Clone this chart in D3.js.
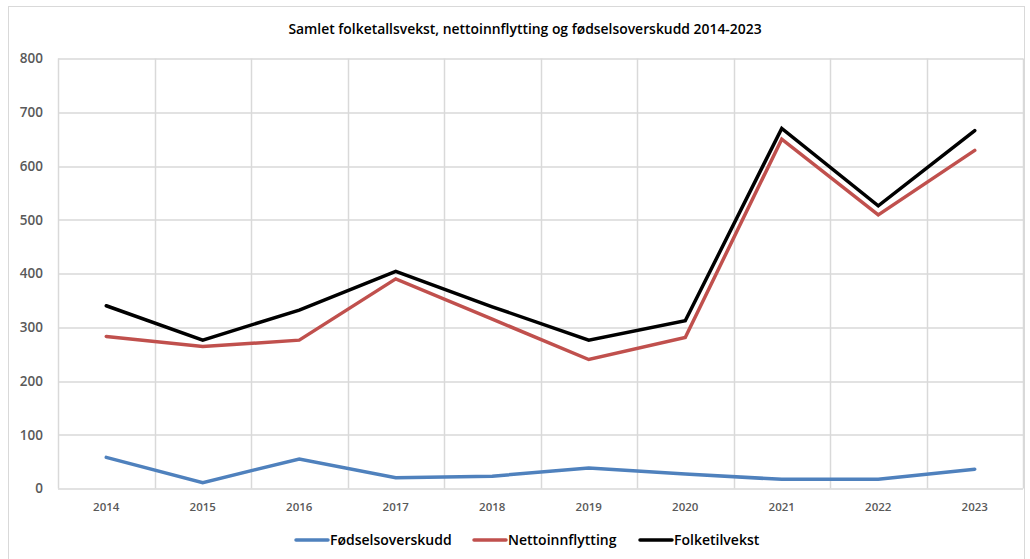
<!DOCTYPE html>
<html>
<head>
<meta charset="utf-8">
<script src="https://cdn.jsdelivr.net/npm/d3@7"></script>
<style>
  body { margin: 0; background: #fff; }
  text { font-family: "Open Sans", "Noto Sans", sans-serif; }
</style>
</head>
<body>
<div id="chart-area"></div>
<script>
/*
*    main.js
*/

var years = ["2014", "2015", "2016", "2017", "2018", "2019", "2020", "2021", "2022", "2023"];
var fodselsoverskudd = [58, 11, 55, 20, 23, 38, 27, 17, 17, 36];
var nettoinnflytting = [283, 264, 276, 390, 315, 240, 281, 650, 509, 629];
var folketilvekst = [340, 276, 332, 404, 338, 276, 312, 670, 526, 666];
var yTicks = [0, 100, 200, 300, 400, 500, 600, 700, 800];

var seriesNames = ["Fødselsoverskudd", "Nettoinnflytting", "Folketilvekst"];
var seriesColors = ["#4f81bd", "#c0504d", "#000000"];
var seriesValues = [fodselsoverskudd, nettoinnflytting, folketilvekst];

var W = 1030, H = 559;
var margin = { left: 58, right: 7, top: 58.5, bottom: 70.5 };
var width = W - margin.left - margin.right;
var height = H - margin.top - margin.bottom;

var svg = d3.select("#chart-area").append("svg")
    .attr("width", W)
    .attr("height", H);

// outer frame
svg.append("rect")
    .attr("x", 8.5)
    .attr("y", 6.5)
    .attr("width", 1016)
    .attr("height", 560)
    .attr("fill", "none")
    .attr("stroke", "#d9d9d9");

// title
svg.append("text")
    .attr("x", 525)
    .attr("y", 34)
    .attr("text-anchor", "middle")
    .text("Samlet folketallsvekst, nettoinnflytting og fødselsoverskudd 2014-2023")
    .style("font-size", "13.9px")
    .style("font-weight", "600")
    .style("fill", "#000");

var g = svg.append("g")
    .attr("transform", "translate(" + margin.left + ", " + margin.top + ")");

var x = d3.scaleBand()
    .domain(years)
    .range([0, width]);

var y = d3.scaleLinear()
    .domain([0, 800])
    .range([height, 0]);

// horizontal grid
g.append("g")
    .attr("class", "grid y")
    .selectAll("line")
    .data(yTicks)
    .enter().append("line")
        .attr("x1", 0)
        .attr("x2", width)
        .attr("y1", (d) => Math.round(y(d)) + 0.5)
        .attr("y2", (d) => Math.round(y(d)) + 0.5)
        .attr("stroke", "#d9d9d9")
        .attr("stroke-width", 1.5);

// vertical grid at band edges
var edges = years.map((d) => x(d)).concat([width]);
g.append("g")
    .attr("class", "grid x")
    .selectAll("line")
    .data(edges)
    .enter().append("line")
        .attr("x1", (d) => Math.round(d) + 0.5)
        .attr("x2", (d) => Math.round(d) + 0.5)
        .attr("y1", 0)
        .attr("y2", height)
        .attr("stroke", "#d9d9d9")
        .attr("stroke-width", 1.5);

// y Axis
var yAxisCall = d3.axisLeft(y)
    .tickValues(yTicks)
    .tickSize(0)
    .tickPadding(15);
g.append("g")
    .attr("class", "y axis")
    .call(yAxisCall);

// x Axis
var xAxisCall = d3.axisBottom(x)
    .tickSize(0)
    .tickPadding(14);
g.append("g")
    .attr("class", "x axis")
    .attr("transform", "translate(0, " + height + ")")
    .call(xAxisCall);

g.selectAll(".axis .domain").remove();

g.select(".y.axis")
    .selectAll(".tick text")
    .style("fill", "#595959")
    .style("font-size", "13.5px")
    .style("font-weight", "600")
    .style("font-family", "'Open Sans', sans-serif");

g.select(".x.axis")
    .selectAll(".tick text")
    .style("fill", "#595959")
    .style("font-size", "11.5px")
    .style("font-weight", "600")
    .style("font-family", "'Open Sans', sans-serif");

// lines
var line = d3.line()
    .x((d, i) => x(years[i]) + x.bandwidth() / 2)
    .y((d) => y(d));

g.selectAll("path.series")
    .data(seriesValues)
    .enter().append("path")
        .attr("class", "series")
        .attr("d", (d) => line(d))
        .attr("fill", "none")
        .attr("stroke", (d, i) => seriesColors[i])
        .attr("stroke-width", 3.5)
        .attr("stroke-linejoin", "miter")
        .attr("stroke-linecap", "round");

// legend
var legendX = [296, 474, 640];
var legend = svg.append("g")
    .attr("class", "legend")
    .attr("transform", "translate(0, 540)");

var items = legend.selectAll("g")
    .data(seriesNames)
    .enter().append("g")
        .attr("transform", (d, i) => "translate(" + legendX[i] + ", 0)");

items.append("line")
    .attr("x1", 0)
    .attr("x2", 32)
    .attr("y1", 0)
    .attr("y2", 0)
    .attr("stroke", (d, i) => seriesColors[i])
    .attr("stroke-width", 3.5)
    .attr("stroke-linecap", "round");

items.append("text")
    .attr("x", 34)
    .attr("y", 5)
    .text((d) => d)
    .style("font-size", "14px")
    .style("font-weight", "600")
    .style("fill", "#000");
</script>
</body>
</html>
